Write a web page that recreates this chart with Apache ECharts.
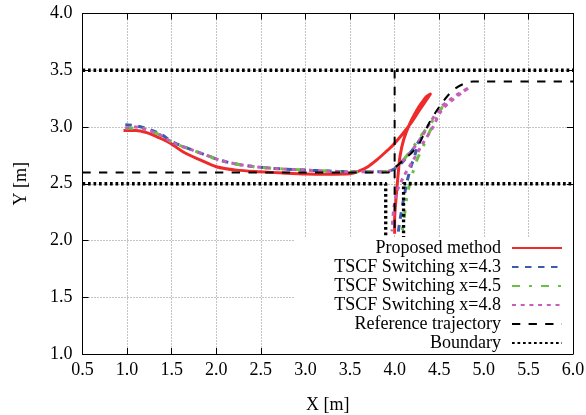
<!DOCTYPE html>
<html>
<head>
<meta charset="utf-8">
<script src="https://cdn.jsdelivr.net/npm/echarts@6/dist/echarts.min.js"></script>
<style>
  html, body { margin: 0; padding: 0; background: #fff; }
  #chart { width: 586px; height: 415px; }
</style>
</head>
<body>
<div id="chart"></div>
<script>
// Axis ticks
const xTicks = [0.5, 1.0, 1.5, 2.0, 2.5, 3.0, 3.5, 4.0, 4.5, 5.0, 5.5, 6.0];
const yTicks = [1.0, 1.5, 2.0, 2.5, 3.0, 3.5, 4.0];

// Proposed method: approach, forward pull-out, then reverse into the slot
const proposedX = [0.96, 1.10, 1.22, 1.33, 1.48, 1.63, 1.82, 2.00, 2.23, 2.49, 2.75, 3.01, 3.25, 3.50, 3.61, 3.70, 3.80, 3.90, 3.98, 4.08, 4.17, 4.28, 4.40,
                   4.36, 4.30, 4.25, 4.17, 4.10, 4.06, 4.04, 4.02, 4.00, 4.00];
const proposedY = [2.97, 2.97, 2.95, 2.915, 2.86, 2.78, 2.71, 2.65, 2.62, 2.606, 2.595, 2.586, 2.584, 2.588, 2.615, 2.65, 2.71, 2.78, 2.84, 2.93, 3.02, 3.15, 3.29,
                   3.27, 3.21, 3.15, 3.03, 2.885, 2.74, 2.59, 2.41, 2.18, 2.06];

// TSCF switching at x = 4.3
const tscf43X = [0.98, 1.10, 1.20, 1.37, 1.52, 1.72, 1.91, 2.05, 2.25, 2.49, 2.75, 3.01, 3.25, 3.50, 3.70, 3.90, 3.97, 4.05, 4.15, 4.25, 4.32,
                 4.28, 4.23, 4.18, 4.14, 4.10, 4.06, 4.04];
const tscf43Y = [3.02, 3.01, 2.99, 2.94, 2.865, 2.80, 2.745, 2.705, 2.67, 2.645, 2.63, 2.62, 2.612, 2.606, 2.605, 2.607, 2.62, 2.66, 2.75, 2.85, 2.93,
                 2.88, 2.76, 2.64, 2.52, 2.36, 2.18, 2.07];

// TSCF switching at x = 4.5
const tscf45X = [0.98, 1.10, 1.20, 1.37, 1.52, 1.72, 1.91, 2.05, 2.25, 2.49, 2.75, 3.01, 3.25, 3.50, 3.70, 3.90, 3.97, 4.05, 4.15, 4.25, 4.35, 4.45, 4.53,
                 4.47, 4.40, 4.32, 4.25, 4.19, 4.14, 4.11, 4.08];
const tscf45Y = [2.99, 2.99, 2.98, 2.93, 2.86, 2.80, 2.745, 2.705, 2.67, 2.645, 2.63, 2.62, 2.612, 2.606, 2.605, 2.607, 2.62, 2.67, 2.76, 2.87, 2.98, 3.08, 3.17,
                 3.08, 2.97, 2.83, 2.71, 2.56, 2.40, 2.22, 2.05];

// TSCF switching at x = 4.8
const tscf48X = [0.98, 1.10, 1.20, 1.37, 1.52, 1.72, 1.91, 2.05, 2.25, 2.49, 2.75, 3.01, 3.25, 3.50, 3.70, 3.91, 4.02, 4.10, 4.17, 4.28, 4.40, 4.51, 4.62, 4.73, 4.84,
                 4.75, 4.62, 4.52, 4.43, 4.32, 4.21, 4.10, 4.03, 3.99, 3.97];
const tscf48Y = [2.99, 3.00, 2.98, 2.93, 2.86, 2.80, 2.745, 2.705, 2.67, 2.645, 2.63, 2.62, 2.612, 2.606, 2.605, 2.606, 2.65, 2.71, 2.77, 2.885, 3.04, 3.17, 3.24, 3.30, 3.35,
                 3.30, 3.22, 3.14, 3.00, 2.86, 2.71, 2.56, 2.44, 2.28, 2.08];

// Reference trajectory: lane path with merge curve, and the vertical slot line
const refPathX = [0.5, 3.93, 4.00, 4.10, 4.20, 4.28, 4.39, 4.46, 4.53, 4.60, 4.68, 4.79, 4.88, 6.0];
const refPathY = [2.6, 2.60, 2.64, 2.71, 2.78, 2.86, 3.04, 3.13, 3.21, 3.28, 3.34, 3.385, 3.40, 3.40];
const refSlotX = [4.0, 4.0];
const refSlotY = [3.5, 2.05];

// Boundary: upper lane edge and lower edge with the parking slot
const boundTopX = [0.5, 6.0];
const boundTopY = [3.5, 3.5];
const boundLowX = [0.5, 3.9, 3.9, 4.1, 4.1, 6.0];
const boundLowY = [2.5, 2.5, 2.0, 2.0, 2.5, 2.5];

const pairs = (xs, ys) => xs.map((x, i) => [x, ys[i]]);

const FONT = 'Liberation Serif';
const names = ['Proposed method', 'TSCF Switching x=4.3', 'TSCF Switching x=4.5',
               'TSCF Switching x=4.8', 'Reference trajectory', 'Boundary'];

function lineSeries(name, data, style, smooth) {
  return {
    name: name,
    type: 'line',
    data: data,
    showSymbol: false,
    symbol: 'none',
    smooth: smooth ? 0.3 : false,
    itemStyle: { color: style.color },
    lineStyle: Object.assign({ cap: 'butt', join: 'round' }, style),
    xAxisIndex: 0,
    yAxisIndex: 0
  };
}

const axisCommon = {
  type: 'value',
  axisLine: { show: true, onZero: false, lineStyle: { color: '#000', width: 1 } },
  axisTick: { show: true, inside: true, length: 6, lineStyle: { color: '#000', width: 1 } }
};

const chart = echarts.init(document.getElementById('chart'), null, { renderer: 'canvas' });

chart.setOption({
  animation: false,
  backgroundColor: '#fff',
  grid: { left: 82.5, right: 13, top: 13.5, bottom: 61, outerBoundsMode: 'none', containLabel: false },
  xAxis: [
    Object.assign({}, axisCommon, {
      position: 'bottom',
      min: xTicks[0], max: xTicks[xTicks.length - 1], interval: 0.5,
      name: 'X [m]', nameLocation: 'middle', nameGap: 42,
      nameTextStyle: { fontFamily: FONT, fontSize: 18, color: '#000' },
      axisLabel: { margin: 7, fontFamily: FONT, fontSize: 18, color: '#000',
                   formatter: v => v.toFixed(1) },
      splitLine: { show: true, lineStyle: { color: '#888', width: 1, type: [1, 2] } }
    }),
    Object.assign({}, axisCommon, {
      position: 'top',
      min: xTicks[0], max: xTicks[xTicks.length - 1], interval: 0.5,
      axisLabel: { show: false }, splitLine: { show: false }
    })
  ],
  yAxis: [
    Object.assign({}, axisCommon, {
      position: 'left',
      min: yTicks[0], max: yTicks[yTicks.length - 1], interval: 0.5,
      name: 'Y [m]', nameLocation: 'middle', nameGap: 52,
      nameTextStyle: { fontFamily: FONT, fontSize: 18, color: '#000' },
      axisLabel: { margin: 10, fontFamily: FONT, fontSize: 18, color: '#000',
                   formatter: v => v.toFixed(1) },
      splitLine: { show: true, lineStyle: { color: '#888', width: 1, type: [1, 2] } }
    }),
    Object.assign({}, axisCommon, {
      position: 'right',
      min: yTicks[0], max: yTicks[yTicks.length - 1], interval: 0.5,
      axisLabel: { show: false }, splitLine: { show: false }
    })
  ],
  legend: {
    data: names,
    orient: 'vertical',
    align: 'right',
    right: 13,
    top: 237,
    padding: [2, 10, 2, 40],
    backgroundColor: '#fff',
    itemWidth: 50,
    itemHeight: 10,
    itemGap: 1,
    // line-only keys: hide the marker symbol drawn on the key line
    itemStyle: { opacity: 0, borderWidth: 0 },
    textStyle: { fontFamily: FONT, fontSize: 18, color: '#000', padding: [0, 6, 0, 0] }
  },
  series: [
    lineSeries(names[0], pairs(proposedX, proposedY), { color: '#ee2a2a', width: 3, type: 'solid' }, true),
    lineSeries(names[1], pairs(tscf43X, tscf43Y), { color: '#3b5cab', width: 3, type: [6.5, 6.5] }, true),
    lineSeries(names[2], pairs(tscf45X, tscf45Y), { color: '#6abf45', width: 3, type: [8, 9, 3, 9] }, true),
    lineSeries(names[3], pairs(tscf48X, tscf48Y), { color: '#c45fba', width: 3, type: [4, 4.7] }, true),
    lineSeries(names[4], pairs(refPathX, refPathY), { color: '#000', width: 2, type: [8.3, 8.3] }, true),
    lineSeries(names[4], pairs(refSlotX, refSlotY), { color: '#000', width: 2, type: [8.3, 8.3] }, false),
    lineSeries(names[5], pairs(boundTopX, boundTopY), { color: '#000', width: 3.3, type: [2.7, 2.8] }, false),
    lineSeries(names[5], pairs(boundLowX, boundLowY), { color: '#000', width: 3.3, type: [2.7, 2.8] }, false)
  ]
});
</script>
</body>
</html>
